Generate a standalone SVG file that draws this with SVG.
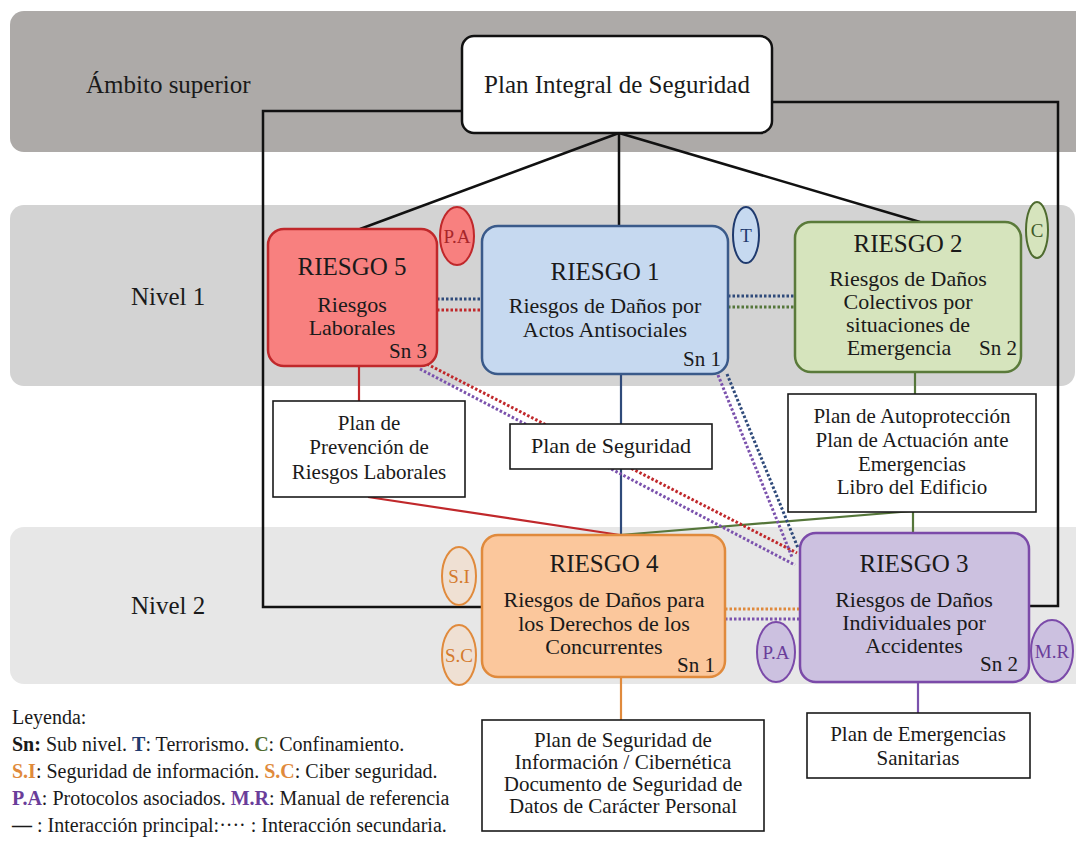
<svg xmlns="http://www.w3.org/2000/svg" width="1076" height="841" viewBox="0 0 1076 841">
<style>
  text { font-family: "Liberation Serif", "Times New Roman", serif; fill: #1a1a1a; }
  .band-label { font-size: 25px; }
  .title { font-size: 25px; text-anchor: middle; }
  .desc { font-size: 22px; text-anchor: middle; }
  .sn { font-size: 21px; text-anchor: end; }
  .plan { fill: #ffffff; stroke: #1a1a1a; stroke-width: 1.6; }
  .plan-text { font-size: 21px; text-anchor: middle; }
  .tag { font-size: 19px; text-anchor: middle; }
  .main { fill: none; stroke: #111111; stroke-width: 2.5; }
  .solid { fill: none; stroke-width: 2.2; }
  .dot { fill: none; stroke-width: 3; stroke-dasharray: 2.5 2; }
  .leg { font-size: 20px; }
  .b { font-weight: bold; }
  .red { stroke: #c0282b; }
  .navy { stroke: #2f4a7a; }
  .green { stroke: #55763a; }
  .orange { stroke: #e08a3c; }
  .purple { stroke: #7b52ad; }
</style>

<!-- level bands -->
<g id="bands">
  <rect x="10" y="11" width="1090" height="141" rx="14" fill="#adaaa8"/>
  <rect x="10" y="205" width="1065" height="181" rx="14" fill="#d3d3d3"/>
  <rect x="10" y="527" width="1090" height="157" rx="14" fill="#e7e7e7"/>
  <text class="band-label" x="86" y="93">Ámbito superior</text>
  <text class="band-label" x="131" y="305">Nivel 1</text>
  <text class="band-label" x="131" y="614">Nivel 2</text>
</g>

<!-- connectors -->
<g id="connectors">
  <!-- principal interactions -->
  <polyline class="main" points="462,111 263,111 263,607 482,607"/>
  <polyline class="main" points="772,102 1058,102 1058,606 1029,606"/>
  <line class="main" x1="619" y1="133" x2="360" y2="229"/>
  <line class="main" x1="619" y1="133" x2="619" y2="226"/>
  <line class="main" x1="619" y1="133" x2="920" y2="222"/>

  <line class="solid red" x1="359" y1="366" x2="359" y2="401"/>
  <line class="solid red" x1="368" y1="497" x2="620" y2="535"/>
  <line class="solid navy" x1="621" y1="374" x2="621" y2="424"/>
  <line class="solid navy" x1="621" y1="469" x2="621" y2="535"/>
  <line class="solid green" x1="915" y1="372" x2="915" y2="394"/>
  <line class="solid green" x1="913" y1="512" x2="913" y2="533"/>
  <line class="solid green" x1="620" y1="535" x2="913" y2="511"/>
  <line class="solid orange" x1="621" y1="677" x2="621" y2="720"/>
  <line class="solid purple" x1="918" y1="682" x2="918" y2="713"/>

  <!-- secondary interactions -->
  <line class="dot navy" x1="437" y1="299" x2="482" y2="299"/>
  <line class="dot red" x1="437" y1="310" x2="482" y2="310"/>
  <line class="dot navy" x1="728" y1="296" x2="795" y2="296"/>
  <line class="dot green" x1="728" y1="307" x2="795" y2="307"/>
  <line class="dot orange" x1="725" y1="609" x2="800" y2="609"/>
  <line class="dot purple" x1="725" y1="619" x2="800" y2="619"/>
  <line class="dot red" x1="423" y1="362" x2="797" y2="553"/>
  <line class="dot purple" x1="420" y1="369" x2="795" y2="565"/>
  <line class="dot purple" x1="718" y1="375" x2="792" y2="557"/>
  <line class="dot navy" x1="727" y1="374" x2="798" y2="548"/>
</g>

<!-- top plan -->
<g id="plan-integral">
  <rect x="462" y="36" width="310" height="97" rx="12" fill="#ffffff" stroke="#111111" stroke-width="2.5"/>
  <text class="title" x="617" y="93">Plan Integral de Seguridad</text>
</g>

<!-- level 1 risks -->
<g id="riesgo5">
  <rect x="268" y="229" width="169" height="137" rx="16" fill="#f8807f" stroke="#c0282b" stroke-width="2.5"/>
  <text class="title" x="352" y="275">RIESGO 5</text>
  <text class="desc" x="352" y="312">Riesgos</text>
  <text class="desc" x="352" y="335">Laborales</text>
  <text class="sn" x="427" y="358">Sn 3</text>
</g>
<g id="tag-pa-r5">
  <ellipse cx="457" cy="236" rx="17" ry="29" fill="#f8807f" stroke="#c0282b" stroke-width="2"/>
  <text class="tag" x="457" y="243" style="fill:#a8262a">P.A</text>
</g>

<g id="riesgo1">
  <rect x="482" y="226" width="246" height="148" rx="16" fill="#c6d9f0" stroke="#3a5a8a" stroke-width="2.5"/>
  <text class="title" x="605" y="280">RIESGO 1</text>
  <text class="desc" x="605" y="313">Riesgos de Daños por</text>
  <text class="desc" x="605" y="337">Actos Antisociales</text>
  <text class="sn" x="721" y="366">Sn 1</text>
</g>
<g id="tag-t">
  <ellipse cx="746" cy="235" rx="13" ry="28" fill="#c6d9f0" stroke="#1f3a6e" stroke-width="2"/>
  <text class="tag" x="746" y="242" style="fill:#1f3a6e">T</text>
</g>

<g id="riesgo2">
  <rect x="795" y="222" width="226" height="150" rx="16" fill="#d6e4bd" stroke="#5a7a3a" stroke-width="2.5"/>
  <text class="title" x="908" y="252">RIESGO 2</text>
  <text class="desc" x="908" y="286">Riesgos de Daños</text>
  <text class="desc" x="908" y="309">Colectivos por</text>
  <text class="desc" x="908" y="332">situaciones de</text>
  <text class="desc" x="899" y="355">Emergencia</text>
  <text class="sn" x="1017" y="355">Sn 2</text>
</g>
<g id="tag-c">
  <ellipse cx="1037" cy="230" rx="11" ry="28" fill="#d6e4bd" stroke="#4e6b2f" stroke-width="2"/>
  <text class="tag" x="1037" y="237" style="fill:#3f5a28">C</text>
</g>

<!-- plans between levels -->
<g id="plan-prevencion">
  <rect class="plan" x="273" y="401" width="192" height="96"/>
  <text class="plan-text" x="369" y="430">Plan de</text>
  <text class="plan-text" x="369" y="454">Prevención de</text>
  <text class="plan-text" x="369" y="479">Riesgos Laborales</text>
</g>
<g id="plan-seguridad">
  <rect class="plan" x="510" y="424" width="202" height="45"/>
  <text class="plan-text" x="611" y="453" style="font-size:22px">Plan de Seguridad</text>
</g>
<g id="plan-autoproteccion">
  <rect class="plan" x="788" y="394" width="248" height="118"/>
  <text class="plan-text" x="912" y="423">Plan de Autoprotección</text>
  <text class="plan-text" x="912" y="447">Plan de Actuación ante</text>
  <text class="plan-text" x="912" y="471">Emergencias</text>
  <text class="plan-text" x="912" y="494">Libro del Edificio</text>
</g>

<!-- level 2 risks -->
<g id="riesgo4">
  <rect x="482" y="535" width="243" height="142" rx="16" fill="#fbc79c" stroke="#e08a3c" stroke-width="2.5"/>
  <text class="title" x="604" y="572">RIESGO 4</text>
  <text class="desc" x="604" y="607">Riesgos de Daños para</text>
  <text class="desc" x="604" y="631">los Derechos de los</text>
  <text class="desc" x="604" y="654">Concurrentes</text>
  <text class="sn" x="715" y="672">Sn 1</text>
</g>
<g id="tag-si">
  <ellipse cx="459" cy="576" rx="17" ry="29" fill="#efe0d3" stroke="#e08a3c" stroke-width="2"/>
  <text class="tag" x="459" y="583" style="fill:#d47a2c">S.I</text>
</g>
<g id="tag-sc">
  <ellipse cx="459" cy="655" rx="17" ry="30" fill="#efe0d3" stroke="#e08a3c" stroke-width="2"/>
  <text class="tag" x="459" y="662" style="fill:#d47a2c">S.C</text>
</g>

<g id="riesgo3">
  <rect x="800" y="533" width="229" height="149" rx="16" fill="#ccc1e0" stroke="#7b4aa9" stroke-width="2.5"/>
  <text class="title" x="914" y="572">RIESGO 3</text>
  <text class="desc" x="914" y="607">Riesgos de Daños</text>
  <text class="desc" x="914" y="630">Individuales por</text>
  <text class="desc" x="914" y="653">Accidentes</text>
  <text class="sn" x="1018" y="671">Sn 2</text>
</g>
<g id="tag-pa-r3">
  <ellipse cx="776" cy="652" rx="19" ry="30" fill="#ccc1e0" stroke="#7b4aa9" stroke-width="2"/>
  <text class="tag" x="776" y="659" style="fill:#6a3d9a">P.A</text>
</g>
<g id="tag-mr">
  <ellipse cx="1052" cy="651" rx="21" ry="31" fill="#ccc1e0" stroke="#7b4aa9" stroke-width="2"/>
  <text class="tag" x="1052" y="658" style="fill:#6a3d9a">M.R</text>
</g>

<!-- plans below level 2 -->
<g id="plan-informacion">
  <rect class="plan" x="482" y="720" width="282" height="111"/>
  <text class="plan-text" x="623" y="747">Plan de Seguridad de</text>
  <text class="plan-text" x="623" y="769">Información / Cibernética</text>
  <text class="plan-text" x="623" y="791">Documento de Seguridad de</text>
  <text class="plan-text" x="623" y="813">Datos de Carácter Personal</text>
</g>
<g id="plan-emergencias">
  <rect class="plan" x="807" y="713" width="223" height="65"/>
  <text class="plan-text" x="918" y="741">Plan de Emergencias</text>
  <text class="plan-text" x="918" y="765">Sanitarias</text>
</g>

<!-- legend -->
<g id="legend">
  <text class="leg" x="12" y="724">Leyenda:</text>
  <text class="leg" x="12" y="751"><tspan class="b">Sn:</tspan> Sub nivel. <tspan class="b" style="fill:#1f3a6e">T</tspan>: Terrorismo. <tspan class="b" style="fill:#4e6b2f">C</tspan>: Confinamiento.</text>
  <text class="leg" x="12" y="778"><tspan class="b" style="fill:#e08a3c">S.I</tspan>: Seguridad de información. <tspan class="b" style="fill:#e08a3c">S.C</tspan>: Ciber seguridad.</text>
  <text class="leg" x="12" y="805"><tspan class="b" style="fill:#6a3d9a">P.A</tspan>: Protocolos asociados. <tspan class="b" style="fill:#6a3d9a">M.R</tspan>: Manual de referencia</text>
  <text class="leg" x="12" y="832"><tspan class="b">—</tspan> : Interacción principal:···· : Interacción secundaria.</text>
</g>
</svg>
